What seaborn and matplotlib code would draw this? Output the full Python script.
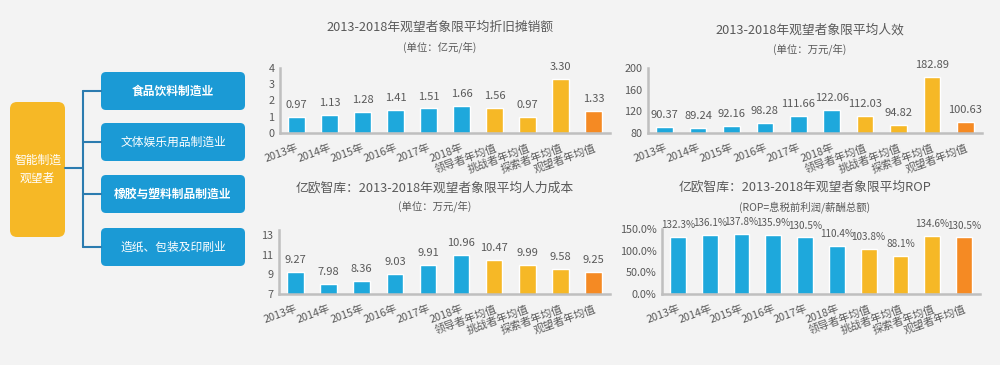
import numpy as np
import pandas as pd
import matplotlib
matplotlib.use('Agg')
import matplotlib.pyplot as plt
from matplotlib.patches import FancyBboxPatch
from matplotlib.ticker import FuncFormatter
import seaborn as sns

# ---- data ----
categories = ['2013年', '2014年', '2015年', '2016年', '2017年', '2018年',
              '领导者年均值', '挑战者年均值', '探索者年均值', '观望者年均值']
depreciation = [0.97, 1.13, 1.28, 1.41, 1.51, 1.66, 1.56, 0.97, 3.30, 1.33]
efficiency = [90.37, 89.24, 92.16, 98.28, 111.66, 122.06, 112.03, 94.82, 182.89, 100.63]
labor_cost = [9.27, 7.98, 8.36, 9.03, 9.91, 10.96, 10.47, 9.99, 9.58, 9.25]
rop = [132.3, 136.1, 137.8, 135.9, 130.5, 110.4, 103.8, 88.1, 134.6, 130.5]

industries = ['食品饮料制造业', '文体娱乐用品制造业', '橡胶与塑料制品制造业', '造纸、包装及印刷业']
root_label = '智能制造\n观望者'

BLUE = '#1EA8DC'
YELLOW = '#F6B826'
ORANGE = '#F58A23'
bar_colors = [BLUE] * 6 + [YELLOW] * 3 + [ORANGE]
TXT = '#595959'
BG = '#F3F3F3'

sns.set_theme(style='white')
plt.rcParams['font.family'] = ['Noto Sans CJK SC', 'DejaVu Sans']
plt.rcParams['axes.unicode_minus'] = False

fig = plt.figure(figsize=(10, 3.65), dpi=100)
fig.patch.set_facecolor(BG)

W, H = 1000, 365


def frac(x0, y_top, x1, y_bot):
    return [x0 / W, 1 - y_bot / H, (x1 - x0) / W, (y_bot - y_top) / H]


# ---- left diagram ----
dg = fig.add_axes([0, 0, 1, 1], zorder=0)
dg.set_xlim(0, W)
dg.set_ylim(H, 0)
dg.axis('off')
dg.patch.set_alpha(0)

dg.add_patch(FancyBboxPatch((10, 102), 55, 135, boxstyle='round,pad=0,rounding_size=7',
                            fc=YELLOW, ec='none'))
dg.text(37.5, 169, root_label, color='white', ha='center', va='center',
        fontsize=8.5, linespacing=1.5)

box_tops = [72, 123, 175, 228]
box_h = 38
line_c = '#2B7BAF'
dg.plot([65, 83], [168, 168], color=line_c, lw=1.5)
dg.plot([83, 83], [box_tops[0] + box_h / 2, box_tops[-1] + box_h / 2], color=line_c, lw=1.5)
for t, name in zip(box_tops, industries):
    dg.plot([83, 101], [t + box_h / 2, t + box_h / 2], color=line_c, lw=1.5)
    dg.add_patch(FancyBboxPatch((101, t), 144, box_h, boxstyle='round,pad=0,rounding_size=5',
                                fc='#1B9AD5', ec='none'))
    dg.text(173, t + box_h / 2, name, color='white', ha='center', va='center', fontsize=8.5,
            fontweight='bold' if name in (industries[0], industries[2]) else 'normal')


# ---- bar panels ----
def panel(rect, values, ylim, yticks, fmt, title, subtitle, tpos, spos, vsize=8):
    ax = fig.add_axes(rect, zorder=1)
    ax.patch.set_alpha(0)
    df = pd.DataFrame({'cat': categories, 'val': values})
    sns.barplot(data=df, x='cat', y='val', hue='cat', palette=bar_colors,
                legend=False, width=0.5, ax=ax, saturation=1)
    ax.set_ylim(*ylim)
    ax.set_xlim(-0.5, len(categories) - 0.5)
    ax.set_yticks(yticks)
    ax.yaxis.set_major_formatter(FuncFormatter(lambda v, p: fmt(v)))
    ax.set_xlabel('')
    ax.set_ylabel('')
    for s in ['top', 'right']:
        ax.spines[s].set_visible(False)
    for s in ['left', 'bottom']:
        ax.spines[s].set_color('#BFBFBF')
        ax.spines[s].set_linewidth(1.8)
    ax.tick_params(axis='y', length=0, colors=TXT, labelsize=7.8, pad=4)
    ax.tick_params(axis='x', length=0, colors=TXT, labelsize=7.8, pad=7)
    ax.set_xticks(range(len(categories)))
    ax.set_xticklabels(categories, rotation=20, ha='right', rotation_mode='anchor')
    for i, v in enumerate(values):
        ax.annotate(fmt(v) if '%' in fmt(v) else f'{v:.2f}', (i, v), xytext=(0, 5),
                    textcoords='offset points', ha='center', va='bottom',
                    fontsize=vsize, color=TXT, annotation_clip=False)
    fig.text(tpos[0] / W, 1 - tpos[1] / H, title, ha='center', va='center',
             fontsize=9.2, color=TXT)
    fig.text(spos[0] / W, 1 - spos[1] / H, subtitle, ha='center', va='center',
             fontsize=7.5, color=TXT)
    return ax


panel(frac(280, 68, 610, 133), depreciation, (0, 4), [0, 1, 2, 3, 4],
      lambda v: f'{v:g}', '2013-2018年观望者象限平均折旧摊销额', '(单位：亿元/年)',
      (440, 27), (440, 47))

panel(frac(648, 68, 982, 133), efficiency, (80, 200), [80, 120, 160, 200],
      lambda v: f'{v:g}', '2013-2018年观望者象限平均人效', '(单位：万元/年)',
      (810, 30), (810, 49))

panel(frac(279, 230, 610, 294), labor_cost, (7, 13.5), [7, 9, 11, 13],
      lambda v: f'{v:g}', '亿欧智库：2013-2018年观望者象限平均人力成本', '(单位：万元/年)',
      (435, 188), (435, 206))

panel(frac(662, 229, 980, 294), rop, (0, 150), [0, 50, 100, 150],
      lambda v: f'{v:.1f}%', '亿欧智库：2013-2018年观望者象限平均ROP', '(ROP=息税前利润/薪酬总额)',
      (805, 187), (805, 207), vsize=7.2)

fig.savefig('out.png', dpi=100, facecolor=BG)
